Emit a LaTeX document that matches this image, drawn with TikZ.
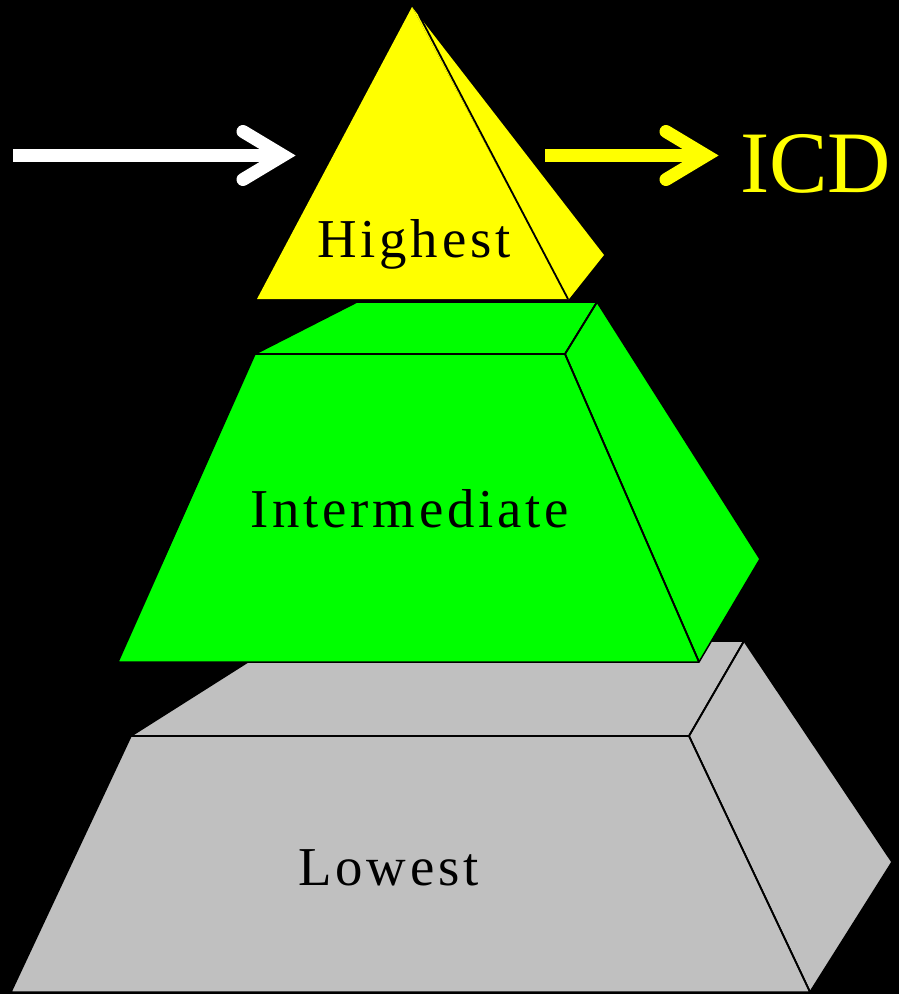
\documentclass[tikz,border=0pt]{standalone}
\usepackage{fontspec}
\setmainfont{Liberation Serif}
\newfontfamily\spacedfont[LetterSpace=7]{Liberation Serif}
\definecolor{ylw}{RGB}{255,255,0}
\definecolor{grn}{RGB}{0,255,0}
\definecolor{gry}{RGB}{192,192,192}
\begin{document}
\begin{tikzpicture}[x=1bp,y=-1bp,
  face/.style={draw=black, line width=1.5bp, line join=round},
  ridge/.style={draw=black, line width=1.8bp},
  lab/.style={anchor=base west, inner sep=0pt, font=\fontsize{55}{60}\selectfont\spacedfont},
  shaft/.style={line width=13bp},
  head/.style={line width=13bp, line cap=round, line join=miter}]
\fill[black] (0,0) rectangle (899,994);
\useasboundingbox (0,0) rectangle (899,994);

% ---- lowest (gray) ----
\coordinate (gFL) at (131,736); \coordinate (gFR) at (689,736);
\coordinate (gBL) at (281,641); \coordinate (gBR) at (744,641);
\coordinate (gBotL) at (11,992); \coordinate (gBotR) at (810,992);
\coordinate (gSide) at (892,862);
\filldraw[face, fill=gry] (gFL) -- (gBL) -- (gBR) -- (gFR) -- cycle;
\filldraw[face, fill=gry] (gFR) -- (gBR) -- (gSide) -- (gBotR) -- cycle;
\filldraw[face, fill=gry] (gFL) -- (gFR) -- (gBotR) -- (gBotL) -- cycle;
\draw[ridge] (gFL) -- (gFR) -- (gBotR);
\draw[ridge] (gFR) -- (gBR);

% ---- intermediate (green) ----
\coordinate (mFL) at (255,354); \coordinate (mFR) at (565,354);
\coordinate (mBL) at (357,302); \coordinate (mBR) at (597,302);
\coordinate (mBotL) at (118,662); \coordinate (mBotR) at (699,662);
\coordinate (mSide) at (760,559);
\filldraw[face, fill=grn] (mFL) -- (mBL) -- (mBR) -- (mFR) -- cycle;
\filldraw[face, fill=grn] (mFR) -- (mBR) -- (mSide) -- (mBotR) -- cycle;
\filldraw[face, fill=grn] (mFL) -- (mFR) -- (mBotR) -- (mBotL) -- cycle;
\draw[ridge] (mFL) -- (mFR) -- (mBotR);
\draw[ridge] (mFR) -- (mBR);

% ---- highest (yellow) ----
\coordinate (yA) at (412,7); \coordinate (yL) at (257,299);
\coordinate (yR) at (568,299); \coordinate (ySide) at (604,255);
\coordinate (yRidge) at (419,15);
\fill[ylw] (yA) -- (ySide) -- (569,299) -- (yR) -- cycle;
\fill[ylw] (yA) -- (yL) -- (yR) -- cycle;
\draw[ridge] (yRidge) -- (yR);

% ---- labels ----
\node[lab] (high) at (317,257) {Highest};
\node[lab] (inter) at (250,527) {Intermediate};
\node[lab] (low) at (298,885) {Lowest};
\node[anchor=base west, inner sep=0pt, text=ylw, font=\fontsize{88}{90}\selectfont] (icd) at (740,192) {ICD};

% ---- arrows ----
\coordinate (wS) at (13,155.5); \coordinate (wE) at (283,155.5);
\draw[white, shaft] (wS) -- (wE);
\draw[white, head] (wE) ++(-40,-24) -- (wE) -- ++(-40,24);
\coordinate (yS) at (545,155.5); \coordinate (yE) at (706,155.5);
\draw[ylw, shaft] (yS) -- (yE);
\draw[ylw, head] (yE) ++(-40,-24) -- (yE) -- ++(-40,24);
\end{tikzpicture}
\end{document}
